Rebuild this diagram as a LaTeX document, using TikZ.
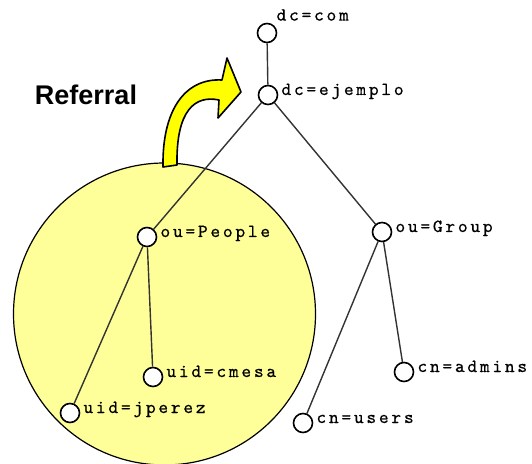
\documentclass[tikz,border=0pt]{standalone}
\usepackage{fontspec}
\setsansfont{Liberation Sans}
\newfontfamily\tagfont{lmmono10-regular.otf}[LetterSpace=15,FakeBold=0.6]
\usetikzlibrary{positioning}

\definecolor{zone}{RGB}{255,255,153}
\definecolor{hook}{RGB}{255,255,0}

\begin{document}
\begin{tikzpicture}[x=1pt,y=1pt,on grid,label distance=3pt,
  leaf/.style={circle,draw,fill=white,line width=1.6pt,minimum size=19pt,inner sep=0pt},
  tag/.style={font=\tagfont\fontsize{18.5}{18.5}\selectfont,anchor=base west,inner sep=0pt}]

\useasboundingbox (0,0) rectangle (532,463);

% referral zone and its arrow
\draw[fill=zone,line width=1.2pt] (164.5,149) circle (151);
\draw[fill=hook,line width=1.6pt,line join=round]
  (163,296) .. controls (162,353) and (185,385) .. (222,383)
  -- (227,405) -- (241,371) -- (218,345) -- (219,363)
  .. controls (195,368) and (176,353) .. (177,298) -- cycle;
\node (ref) at (86,368) {\sffamily\bfseries\fontsize{27}{27}\selectfont Referral};

% directory tree
\node[leaf,label={[tag,yshift=3pt]north east:dc=com}] (com) at (267,430) {};
\node[leaf,label={[tag]east:dc=ejemplo}] (ejemplo) [below right=62pt and 1pt of com] {};
\node[leaf,label={[tag]east:ou=People}] (people) [below left=142pt and 121pt of ejemplo] {};
\node[leaf,label={[tag]east:ou=Group}] (group) [below right=137pt and 114pt of ejemplo] {};
\node[leaf,label={[tag]east:uid=cmesa}] (cmesa) [below right=140pt and 6pt of people] {};
\node[leaf,label={[tag]east:uid=jperez}] (jperez) [below left=176pt and 77pt of people] {};
\node[leaf,label={[tag]east:cn=admins}] (admins) [below right=140pt and 22pt of group] {};
\node[leaf,label={[tag]east:cn=users}] (users) [below left=191pt and 79pt of group] {};

\path[draw=black!80,line width=1.4pt]
  (com) edge (ejemplo)
  (ejemplo) edge (people)
            edge (group)
  (people) edge (cmesa)
           edge (jperez)
  (group) edge (admins)
          edge (users);

\end{tikzpicture}
\end{document}
